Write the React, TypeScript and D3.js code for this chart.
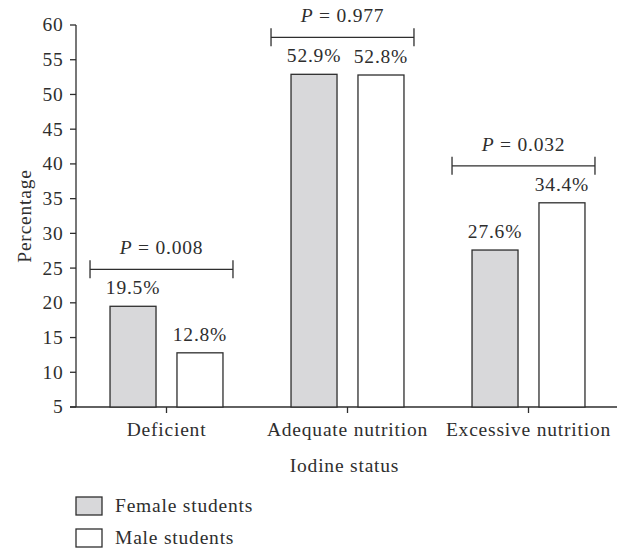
import * as d3 from "d3";

const categories = ["Deficient", "Adequate nutrition", "Excessive nutrition"];
const seriesNames = ["Female students", "Male students"];
const female = [19.5, 52.9, 27.6];
const male = [12.8, 52.8, 34.4];
const pValues = ["0.008", "0.977", "0.032"];
const yTicks = [5, 10, 15, 20, 25, 30, 35, 40, 45, 50, 55, 60];

const W = 617;
const H = 548;
const FONT = "'Liberation Serif', 'DejaVu Serif', serif";
const FS = 19.5;
const LS = 0.8;
const INK = "#2e2e2e";
const GREY = "#d8d8da";

export default function App() {
  const x = d3.scaleBand<string>().domain(categories).range([76, 619]);
  const bw = x.bandwidth();
  const inner = d3
    .scaleBand<string>()
    .domain(seriesNames)
    .range([bw * 0.188, bw * 0.812])
    .paddingInner(0.313);
  const y = d3.scaleLinear().domain([5, 60]).range([407, 25]);

  const fills = [GREY, "#ffffff"];
  const txt = { fontSize: FS, fill: INK, letterSpacing: LS } as const;

  return (
    <svg
      width={W}
      height={H}
      style={{ position: "absolute", left: 0, top: 0, background: "#fff" }}
      fontFamily={FONT}
    >
      {/* y axis */}
      <line x1={76} x2={76} y1={y(5)} y2={y(60)} stroke={INK} strokeWidth={1.3} />
      {yTicks.map((t) => (
        <g key={t}>
          <line x1={70} x2={76} y1={y(t)} y2={y(t)} stroke={INK} strokeWidth={1.3} />
          <text x={63.5} y={y(t)} dy="0.33em" textAnchor="end" {...txt}>
            {t}
          </text>
        </g>
      ))}
      <text
        transform={`translate(31,${(y(5) + y(60)) / 2}) rotate(-90)`}
        textAnchor="middle"
        {...txt}
      >
        Percentage
      </text>

      {/* x axis */}
      <line x1={70} x2={x.range()[1]} y1={y(5)} y2={y(5)} stroke={INK} strokeWidth={1.3} />
      {categories.map((c) => (
        <g key={c}>
          <line
            x1={x(c)! + bw / 2}
            x2={x(c)! + bw / 2}
            y1={y(5)}
            y2={y(5) + 6}
            stroke={INK}
            strokeWidth={1.3}
          />
          <text x={x(c)! + bw / 2} y={436} textAnchor="middle" {...txt}>
            {c}
          </text>
        </g>
      ))}
      <text x={(x.range()[0] + x.range()[1]) / 2 - 3} y={472} textAnchor="middle" {...txt}>
        Iodine status
      </text>

      {/* bars, value labels and P brackets */}
      {categories.map((c, i) => {
        const vals = [female[i], male[i]];
        const top = Math.min(y(female[i]), y(male[i]));
        const by = top - 37;
        const bx1 = x(c)! + inner(seriesNames[0])! - 20;
        const bx2 = x(c)! + inner(seriesNames[1])! + inner.bandwidth() + 10;
        return (
          <g key={c}>
            {seriesNames.map((s, j) => {
              const bx = x(c)! + inner(s)!;
              return (
                <g key={s}>
                  <rect
                    x={bx}
                    y={y(vals[j])}
                    width={inner.bandwidth()}
                    height={y(5) - y(vals[j])}
                    fill={fills[j]}
                    stroke={INK}
                    strokeWidth={1.3}
                  />
                  <text
                    x={bx + inner.bandwidth() / 2}
                    y={y(vals[j]) - 12}
                    textAnchor="middle"
                    {...txt}
                  >
                    {vals[j].toFixed(1)}%
                  </text>
                </g>
              );
            })}
            <line x1={bx1} x2={bx2} y1={by} y2={by} stroke={INK} strokeWidth={1.3} />
            <line x1={bx1} x2={bx1} y1={by - 9} y2={by + 9} stroke={INK} strokeWidth={1.3} />
            <line x1={bx2} x2={bx2} y1={by - 9} y2={by + 9} stroke={INK} strokeWidth={1.3} />
            <text x={(bx1 + bx2) / 2} y={by - 15} textAnchor="middle" {...txt}>
              <tspan fontStyle="italic">P</tspan> = {pValues[i]}
            </text>
          </g>
        );
      })}

      {/* legend */}
      {seriesNames.map((s, j) => (
        <g key={s} transform={`translate(76,${497 + j * 32})`}>
          <rect x={0} y={0} width={26} height={18} fill={fills[j]} stroke={INK} strokeWidth={1.3} />
          <text x={39} y={15} {...txt}>
            {s}
          </text>
        </g>
      ))}
    </svg>
  );
}
